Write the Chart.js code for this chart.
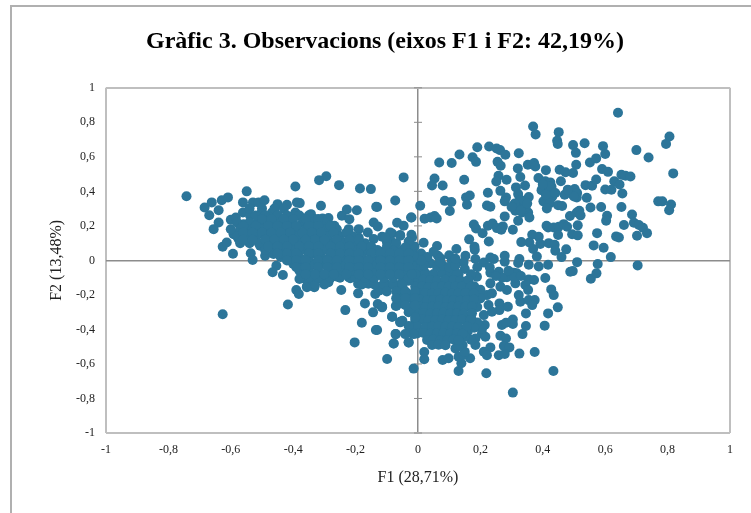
<!DOCTYPE html>
<html>
<head>
<meta charset="utf-8">
<script src="https://cdn.jsdelivr.net/npm/chart.js@4"></script>
<style>
html, body { margin: 0; padding: 0; background: #fff; overflow: hidden; }
#frame { position: absolute; left: 10px; top: 5px; width: 760px; height: 530px; border: 2px solid #b0b0b0; }
#wrap { position: absolute; left: 0; top: 0; width: 751px; height: 513px; }
</style>
</head>
<body>
<div id="frame"></div>
<div id="wrap"><canvas id="chart" width="751" height="513"></canvas></div>
<script>
const titleText = 'Gràfic 3. Observacions (eixos F1 i F2: 42,19%)';
const xAxisLabel = 'F1 (28,71%)';
const yAxisLabel = 'F2 (13,48%)';
const tickValues = [-1, -0.8, -0.6, -0.4, -0.2, 0, 0.2, 0.4, 0.6, 0.8, 1];

// [F1, F2] llegits del grafic, per zones
const upperRight = [
[.641,.855],[.369,.776],[.377,.730],[.451,.743],[.806,.718],[.795,.675],[.446,.693],[.448,.674],[.497,.668],[.534,.679],
[.593,.662],[.506,.623],[.600,.616],[.700,.639],[.739,.596],[.190,.656],[.228,.660],[.252,.648],[.263,.639],[.280,.612],
[.323,.621],[.133,.614],[.175,.598],[.186,.571],[.068,.567],[.108,.564],[.255,.571],[.265,.548],[.352,.554],[.372,.564],
[.376,.544],[.320,.533],[.410,.523],[.454,.525],[.473,.511],[.497,.506],[.507,.554],[.551,.567],[.571,.591],[.590,.529],
[.609,.513],[.652,.496],[.665,.490],[.681,.486],[.818,.504],[-.046,.481],[.053,.475],[.045,.434],[.079,.434],[.148,.467],
[.258,.490],[.251,.457],[.284,.467],[.328,.483],[.386,.477],[.408,.459],[.424,.452],[.458,.459],[.537,.436],[.558,.432],
[.571,.469],[.629,.459],[.646,.440],[.600,.411],[.620,.409],[.655,.388],[.343,.434],[.314,.423],[.264,.403],[.224,.392],
[.396,.407],[.428,.427],[.419,.403],[.485,.403],[.502,.413],[.494,.384],[.509,.365],[.541,.363],[.166,.376],[.154,.365],
[.157,.322],[.086,.345],[.107,.338],[.102,.286],[-.073,.347],[-.131,.309],[.007,.317],[-.021,.249],[.021,.241],[.040,.249],
[.053,.257],[.060,.243],[.321,.384],[.325,.345],[.355,.367],[.282,.365],[.278,.342],[.430,.369],[.402,.342],[.423,.332],
[.413,.301],[.449,.320],[.462,.315],[.553,.307],[.587,.309],[.652,.309],[.770,.342],[.783,.342],[.811,.324],[.805,.291],
[.517,.288],[.509,.278],[.521,.261],[.487,.257],[.221,.318],[.232,.311],[.278,.255],[.307,.317],[.323,.307],[.339,.326],
[.312,.288],[.334,.278],[.353,.278],[.357,.249],[.321,.230],[.606,.259],[.603,.230],[.686,.266],[.692,.218],[.708,.205],
[.721,.189],[.734,.158],[.660,.205],[.702,.143],[.635,.139],[.644,.133],[.574,.158],[.563,.087],[.595,.073],[.618,.019],
[.179,.208],[.186,.185],[.207,.158],[.224,.201],[.239,.214],[.253,.187],[.272,.197],[.267,.178],[.304,.178],[.412,.201],
[.417,.191],[.435,.191],[.451,.195],[.467,.210],[.478,.195],[.512,.203],[.494,.152],[.512,.145],[.449,.147],[.366,.149],
[.387,.137],[.357,.104],[.331,.106],[.392,.095],[.419,.100],[.438,.091],[.369,.066],[.440,.056],[.475,.064],[.381,.023],
[.460,.019],[.164,.122],[.227,.110],[.181,.079],[.182,.062],[.123,.066],[.061,.083],[.064,.027],[.018,.102],[-.067,.218],
[-.046,.201],[-.021,.149],[-.019,.133],[-.115,.137],[-.083,.156],[-.057,.147],[-.089,.118],[-.030,.081],[-.011,.081],[-.075,.060],
[-.099,.085],[-.096,.027],[-.041,.037],[-.014,.037],[.109,.004],[.152,.027],[.146,-.012],[.184,.008],[.211,-.012],[.232,.017],
[.243,.008],[.278,.027],[.278,-.008],[.325,.008],[.321,-.015],[.355,-.025],[.387,-.035],[.417,-.025],[.510,-.010],[.576,-.021],
[.704,-.029],
[.33,.35],[.345,.31],[.31,.33],[.33,.29],[.30,.31],[.35,.33],[.49,.39],[.51,.39],[.47,.38],[.50,.37],
[.48,.41],[.43,.40],[.42,.43],[.41,.38],[.44,.39],[.40,.44]
];

const lowerRight = [
[.408,-.102],[.488,-.066],[.496,-.062],[.554,-.106],[.572,-.075],[.232,-.071],[.259,-.066],[.285,-.098],[.307,-.071],[.317,-.075],
[.312,-.133],[.285,-.172],[.264,-.152],[.232,-.133],[.189,-.095],[.146,-.124],[.221,-.201],[.237,-.191],[.355,-.110],[.372,-.114],
[.344,-.143],[.353,-.172],[.323,-.201],[.328,-.239],[.355,-.230],[.374,-.230],[.366,-.259],[.427,-.168],[.435,-.201],[.448,-.272],
[.417,-.307],[.346,-.307],[.288,-.268],[.261,-.249],[.261,-.288],[.226,-.259],[.237,-.297],[.211,-.317],[.304,-.342],[.304,-.369],
[.269,-.374],[.282,-.361],[.346,-.380],[.406,-.378],[.335,-.427],[.264,-.436],[.282,-.452],[.214,-.374],[.205,-.423],[.216,-.442],
[.275,-.496],[.293,-.504],[.232,-.504],[.211,-.529],[.221,-.550],[.259,-.550],[.278,-.542],[.325,-.540],[.374,-.531],[.434,-.641],
[.219,-.654],[.304,-.766],[.130,-.641],[-.014,-.627],[.020,-.531],[.020,-.573],[.079,-.577],[.098,-.567],[.139,-.596],[.167,-.567],
[-.099,-.571],[-.078,-.481],[-.071,-.427],[-.030,-.475],[-.083,-.326],[-.071,-.264],[-.057,-.355],[-.131,-.403],[-.115,-.268],[.184,-.490],
[.143,-.490],[.120,-.510],[.130,-.558],[.146,-.548],[.184,-.452],[.205,-.396],
[.18,-.15],[.20,-.17],[.16,-.20],[.20,-.22],[.19,-.27],[.17,-.33],[.19,-.36],[.16,-.41],[.18,-.39],[.17,-.46],
[.15,-.44],[.15,-.53],[.13,-.50],[.15,-.05],[.19,-.04],[.23,-.04],[.13,-.08],[.17,-.08],[.27,-.10],[.29,-.06],
[.25,-.09],[.31,-.10],[.33,-.09]
];

const denseCore = [
[-.041,-.075],[-.019,-.078],[.002,-.072],[.024,-.075],[.050,-.079],[.077,-.073],[.104,-.075],[.125,-.077],
[-.030,-.114],[-.003,-.116],[.018,-.112],[.040,-.114],[.061,-.117],[.088,-.112],[.114,-.114],[.136,-.116],[.162,-.113],
[-.009,-.152],[.013,-.150],[.034,-.154],[.056,-.152],[.077,-.150],[.098,-.153],[.120,-.152],[.141,-.150],[.168,-.153],
[.002,-.191],[.024,-.189],[.045,-.193],[.066,-.191],[.088,-.188],[.109,-.192],[.130,-.191],[.152,-.189],[.179,-.192],
[-.014,-.230],[.007,-.228],[.029,-.232],[.050,-.230],[.072,-.227],[.093,-.231],[.114,-.229],[.136,-.232],[.157,-.230],[.179,-.228],
[-.019,-.268],[.002,-.266],[.024,-.270],[.045,-.268],[.066,-.265],[.088,-.270],[.109,-.268],[.130,-.266],[.152,-.269],[.173,-.267],
[-.003,-.307],[.018,-.305],[.040,-.309],[.061,-.307],[.082,-.304],[.104,-.308],[.125,-.306],[.146,-.309],[.173,-.306],
[-.009,-.345],[.013,-.343],[.034,-.347],[.056,-.345],[.077,-.342],[.098,-.346],[.120,-.345],[.141,-.343],[.168,-.346],
[-.025,-.384],[-.003,-.382],[.024,-.386],[.045,-.384],[.066,-.381],[.088,-.385],[.109,-.383],[.130,-.386],[.157,-.384],
[-.003,-.423],[.018,-.421],[.040,-.425],[.061,-.423],[.082,-.420],[.104,-.424],[.125,-.422],[.143,-.425],
[.029,-.461],[.050,-.459],[.072,-.463],[.093,-.461],[.114,-.458],[.130,-.462],
[.045,-.490],[.066,-.488],[.088,-.492],
[-.094,-.075],[-.073,-.037],[-.051,-.095],[-.105,-.133],[-.121,-.172],[-.062,-.143],[-.041,-.046],[-.014,-.008],[.002,-.037],[.040,-.017],
[.061,-.037],[.072,.012],[.109,-.008],[-.046,-.191],
[-.05,-.15],[-.03,-.20],[-.05,-.25],[-.03,-.30],[-.05,-.35],[-.03,-.38],[-.02,-.42],
[-.02,-.03],[.02,-.03],[.08,-.03],[.10,-.04],[.12,-.03],
[-.12,.05],[-.10,.11],[-.07,.10],[-.05,.06],[-.03,.11],[-.02,.02],[.01,.04],[.03,.02],[.05,.05],[.07,-.01],
[.10,.03],[.12,.01],[.01,.00]
];

const centerBand = [
[-.294,.488],[-.317,.465],[-.393,.428],[-.253,.436],[-.186,.417],[-.151,.413],[-.134,.311],[-.379,.332],[-.311,.317],[-.196,.291],
[-.228,.295],[-.244,.259],[-.220,.239],[-.343,.268],[-.359,.234],[-.306,.243],[-.287,.245],[-.332,.239],[-.393,.278],[-.142,.220],
[-.129,.197],[-.022,.249],[-.222,.181],[-.190,.181],[-.161,.162],[-.142,.124],[-.268,.201],[-.281,.162],[-.303,.201],[-.324,.191],
[-.351,.181],[-.377,.162],[-.399,.191],[-.404,.133],[-.260,.124],[-.233,.104],[-.190,.133],[-.169,.085],[-.201,.056],[-.180,.037],
[-.158,.056],[-.281,.104],[-.313,.133],[-.345,.124],[-.377,.114],[-.303,.075],[-.335,.085],[-.367,.066],[-.393,.085],[-.399,.027],
[-.367,-.012],[-.329,.037],[-.270,.046],[-.249,.066],[-.238,.008],[-.292,-.002],[-.324,-.031],[-.351,-.041],[-.367,-.098],[-.345,-.118],
[-.356,-.156],[-.332,-.156],[-.390,-.172],[-.382,-.195],[-.303,-.098],[-.287,-.127],[-.270,-.041],[-.244,-.060],[-.222,-.098],[-.246,-.172],
[-.192,-.191],[-.233,-.288],[-.180,-.361],[-.203,-.475],[-.135,-.403],[-.170,-.249],[-.144,-.301],[-.129,-.253],[-.115,-.272],[-.137,-.195],
[-.126,-.176],[-.099,-.156],[-.115,-.147],[-.185,-.137],[-.206,-.060],[-.180,-.079],[-.153,-.127],[-.158,-.050],[-.137,-.002],[-.110,-.041],
[-.089,-.060],[-.067,-.079],[-.046,-.118],[-.057,-.185],[-.035,-.214],[-.069,-.262],[-.083,-.326],[-.057,-.359],[-.072,-.427],[-.078,-.481],
[-.030,-.475],[-.014,-.427],[-.041,-.427],[-.025,-.291],[-.009,-.330],[-.030,-.118],[-.035,-.041],[-.009,-.079],[-.089,-.002],[-.067,-.031],
[-.041,.075],[-.014,.027],[-.099,.075],[-.078,.056],[-.089,.162],[-.057,.143],[-.105,.133],[-.336,-.151],[-.356,-.150],[-.288,-.122],
[-.368,-.103],[-.339,-.112],[-.316,-.103],[-.259,-.094],[-.217,-.103],[-.192,-.135],[-.159,-.135],
[-.18,-.14],[-.14,-.14],[-.11,-.14],[-.08,-.14],[-.05,-.14],[-.33,-.14],[-.30,-.14],
[-.10,-.18],[-.07,-.18],[-.04,-.18],[-.01,-.18],[-.07,-.22],[-.04,-.22],[-.01,-.22],[-.04,-.26],[-.01,-.26],
[-.35,-.10],[-.32,-.10],[-.28,-.10],[-.25,-.10],[-.20,-.10],[-.17,-.10],[-.14,-.10],[-.11,-.10],[-.08,-.10],[-.03,-.10],
[-.38,-.06],[-.35,-.06],[-.32,-.06],[-.28,-.06],[-.24,-.06],[-.21,-.06],[-.18,-.06],[-.14,-.06],[-.11,-.06],[-.08,-.06],[-.05,-.06],
[-.40,-.02],[-.37,-.02],[-.34,-.02],[-.30,-.02],[-.27,-.02],[-.24,-.02],[-.20,-.02],[-.17,-.02],[-.14,-.02],[-.10,-.02],[-.07,-.02],[-.04,-.02],
[-.44,.02],[-.41,.02],[-.38,.02],[-.35,.02],[-.31,.02],[-.28,.02],[-.25,.02],[-.21,.02],[-.18,.02],[-.15,.02],[-.12,.02],[-.08,.02],[-.05,.02]
];

const leftWing = [
[-.742,.372],[-.684,.307],[-.661,.336],[-.639,.291],[-.669,.262],[-.629,.349],[-.609,.365],[-.549,.400],[-.561,.336],[-.529,.336],
[-.511,.336],[-.492,.349],[-.450,.326],[-.420,.322],[-.639,.220],[-.655,.181],[-.600,.235],[-.584,.249],[-.561,.278],[-.538,.259],
[-.501,.278],[-.468,.278],[-.388,.336],[-.626,.079],[-.613,.104],[-.593,.039],[-.591,.152],[-.575,.124],[-.548,.172],[-.559,.210],
[-.522,.210],[-.490,.230],[-.511,.152],[-.538,.114],[-.536,.041],[-.530,.002],[-.490,.027],[-.506,.085],[-.474,.152],[-.452,.220],
[-.425,.249],[-.399,.259],[-.474,.085],[-.441,.114],[-.463,.037],[-.436,.037],[-.404,.114],[-.420,.181],[-.393,.181],[-.393,.037],
[-.383,.085],[-.454,-.031],[-.466,-.069],[-.433,-.085],[-.380,-.108],[-.409,.014],[-.372,-.012],[-.484,.152],[-.452,.152],[-.626,-.312],
[-.417,-.256]
];

const leftMass = [
[-.54,.30],[-.50,.30],[-.46,.30],[-.43,.30],
[-.52,.26],[-.49,.26],[-.45,.26],[-.42,.26],[-.38,.26],[-.35,.26],
[-.58,.22],[-.54,.22],[-.50,.22],[-.47,.22],[-.44,.22],[-.41,.22],[-.37,.22],[-.34,.22],[-.30,.22],
[-.60,.18],[-.57,.18],[-.53,.18],[-.50,.18],[-.46,.18],[-.43,.18],[-.40,.18],[-.36,.18],[-.33,.18],[-.30,.18],[-.26,.18],
[-.58,.14],[-.55,.14],[-.52,.14],[-.48,.14],[-.45,.14],[-.42,.14],[-.39,.14],[-.35,.14],[-.32,.14],[-.29,.14],[-.25,.14],[-.21,.14],
[-.57,.10],[-.54,.10],[-.51,.10],[-.47,.10],[-.44,.10],[-.40,.10],[-.37,.10],[-.34,.10],[-.30,.10],[-.27,.10],[-.24,.10],[-.20,.10],[-.17,.10],
[-.49,.06],[-.46,.06],[-.43,.06],[-.40,.06],[-.36,.06],[-.33,.06],[-.30,.06],[-.26,.06],[-.23,.06],[-.20,.06],[-.16,.06],[-.13,.06],
[-.50,.24],[-.47,.24],[-.43,.24],[-.40,.24],[-.36,.24],[-.32,.24],
[-.56,.20],[-.52,.20],[-.48,.20],[-.45,.20],[-.42,.20],[-.39,.20],[-.35,.20],[-.32,.20],[-.28,.20],
[-.56,.16],[-.53,.16],[-.50,.16],[-.47,.16],[-.44,.16],[-.41,.16],[-.37,.16],[-.34,.16],[-.31,.16],[-.27,.16],[-.23,.16],
[-.56,.12],[-.53,.12],[-.49,.12],[-.46,.12],[-.43,.12],[-.40,.12],[-.36,.12],[-.33,.12],[-.30,.12],[-.26,.12],[-.22,.12],[-.19,.12],
[-.48,.08],[-.45,.08],[-.42,.08],[-.38,.08],[-.35,.08],[-.32,.08],[-.28,.08],[-.25,.08],[-.22,.08],[-.18,.08],[-.15,.08],
[-.45,.04],[-.42,.04],[-.39,.04],[-.35,.04],[-.32,.04],[-.28,.04],[-.25,.04],[-.22,.04],[-.19,.04],[-.15,.04],[-.12,.04],[-.09,.04],[-.06,.04],[-.03,.04],
[-.42,.00],[-.39,.00],[-.36,.00],[-.32,.00],[-.29,.00],[-.26,.00],[-.22,.00],[-.19,.00],[-.16,.00],[-.12,.00],[-.09,.00],[-.06,.00],[-.03,.00],
[-.39,-.04],[-.36,-.04],[-.32,-.04],[-.29,-.04],[-.26,-.04],[-.22,-.04],[-.19,-.04],[-.16,-.04],[-.12,-.04],[-.09,-.04],[-.06,-.04],[-.03,-.04],
[-.36,-.08],[-.33,-.08],[-.30,-.08],[-.27,-.08],[-.23,-.08],[-.19,-.08],[-.16,-.08],[-.12,-.08],[-.09,-.08],[-.06,-.08],[-.02,-.08]
];

const observations = [...upperRight, ...lowerRight, ...denseCore, ...centerBand, ...leftWing, ...leftMass];

const comma = v => String(Math.round(v * 10) / 10).replace('.', ',');
const textColor = '#222222';
const axisFont = { family: "'Liberation Serif'", size: 12 };

// color i gruix de les linies: marc a +-1, eix a 0
const gridColor = ctx => {
    const v = Math.round(ctx.tick.value * 10) / 10;
    if (v === 0) return '#8c8c8c';
    if (v === -1 || v === 1) return '#bfbfbf';
    return 'rgba(0,0,0,0)';
};
const gridWidth = ctx => {
    const v = Math.round(ctx.tick.value * 10) / 10;
    return v === 0 ? 1.5 : 2;
};

// marques petites sobre l'eix vertical del zero
const zeroAxisTicks = {
    id: 'zeroAxisTicks',
    beforeDatasetsDraw(chart) {
        const { ctx, scales: { x, y } } = chart;
        ctx.save();
        ctx.strokeStyle = '#8c8c8c';
        ctx.lineWidth = 1;
        ctx.beginPath();
        tickValues.forEach(v => {
            ctx.moveTo(x.getPixelForValue(0) - 4, y.getPixelForValue(v));
            ctx.lineTo(x.getPixelForValue(0) + 4, y.getPixelForValue(v));
        });
        ctx.stroke();
        ctx.restore();
    }
};

new Chart(document.getElementById('chart'), {
    type: 'scatter',
    data: {
        datasets: [{
            label: 'Observacions',
            data: observations.map(p => ({ x: p[0], y: p[1] })),
            pointBackgroundColor: '#2c7599',
            pointBorderWidth: 0,
            pointRadius: 5,
            pointHoverRadius: 5
        }]
    },
    plugins: [zeroAxisTicks],
    options: {
        responsive: false,
        animation: false,
        layout: { padding: { left: 40, right: 21, top: 27, bottom: 0 } },
        plugins: {
            legend: { display: false },
            tooltip: { enabled: false },
            title: {
                display: true,
                text: titleText,
                color: '#000000',
                font: { family: "'Liberation Serif'", size: 24, weight: 'bold' },
                padding: { top: 0, bottom: 32 }
            }
        },
        scales: {
            x: {
                type: 'linear',
                min: -1,
                max: 1,
                afterFit(scale) { scale.height = 80; },
                afterBuildTicks(scale) { scale.ticks = tickValues.map(value => ({ value })); },
                ticks: { callback: comma, color: textColor, font: axisFont, maxRotation: 0, padding: 10 },
                grid: { color: gridColor, lineWidth: gridWidth, drawTicks: false },
                border: { display: false },
                title: {
                    display: true,
                    text: xAxisLabel,
                    color: textColor,
                    font: { family: "'Liberation Serif'", size: 16 },
                    padding: { top: 8, bottom: 26 }
                }
            },
            y: {
                type: 'linear',
                min: -1,
                max: 1,
                afterFit(scale) { scale.width = 66; },
                afterBuildTicks(scale) { scale.ticks = tickValues.map(value => ({ value })); },
                ticks: { callback: comma, color: textColor, font: axisFont, padding: 11 },
                grid: { color: gridColor, lineWidth: gridWidth, drawTicks: false },
                border: { display: false },
                title: {
                    display: true,
                    text: yAxisLabel,
                    color: textColor,
                    font: { family: "'Liberation Serif'", size: 16 },
                    padding: { top: 7, bottom: 0 }
                }
            }
        }
    }
});
</script>
</body>
</html>
